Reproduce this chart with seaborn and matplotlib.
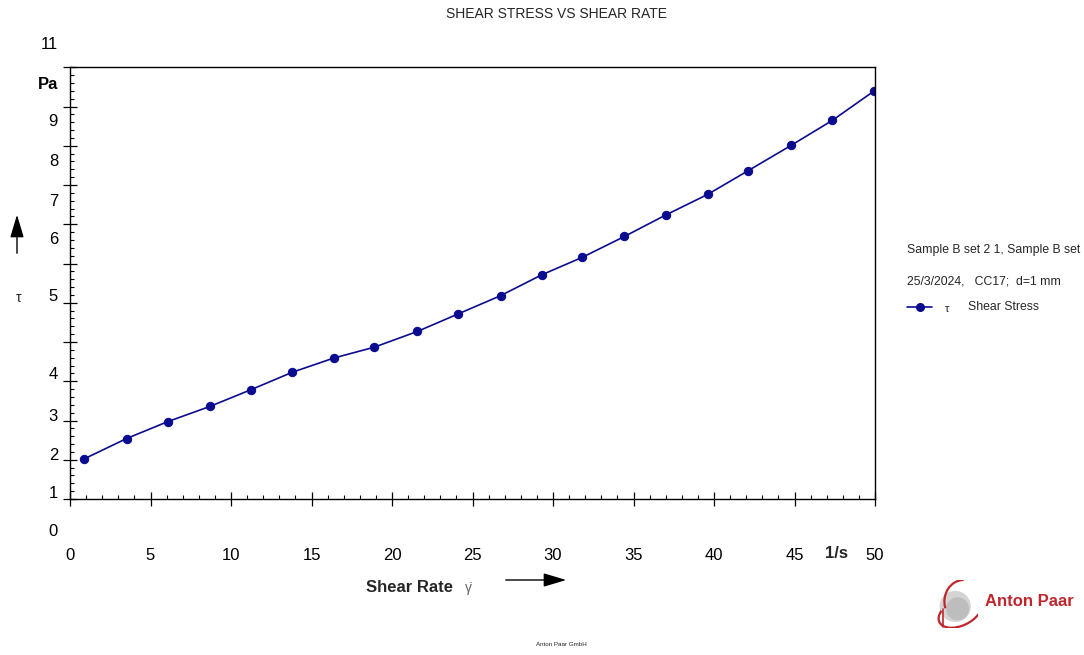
import matplotlib
matplotlib.use("Agg")
import matplotlib.pyplot as plt
import seaborn as sns
import pandas as pd
from matplotlib.lines import Line2D
from matplotlib.patches import Circle, Arc, FancyArrowPatch
from matplotlib.ticker import MultipleLocator

# Measured flow curve: shear rate (1/s) and shear stress tau (Pa)
shear_rate = [0.87, 3.51, 6.06, 8.70, 11.27, 13.81, 16.37, 18.91, 21.58, 24.13,
              26.74, 29.29, 31.83, 34.44, 37.02, 39.60, 42.14, 44.79, 47.36, 49.92]
shear_stress = [2.02, 2.54, 2.97, 3.36, 3.79, 4.23, 4.59, 4.87, 5.27, 5.72,
                6.18, 6.71, 7.16, 7.69, 8.24, 8.76, 9.37, 10.01, 10.65, 11.39]

x_tick_values = [0, 5, 10, 15, 20, 25, 30, 35, 40, 45, 50]
y_label_texts = ["0", "1", "2", "3", "4", "5", "6", "7", "8", "9", "Pa", "11"]

series_name = "Shear Stress"
sample_info = "Sample B set 2 1, Sample B set"
run_info = "25/3/2024,   CC17;  d=1 mm"

df = pd.DataFrame({"rate": shear_rate, "stress": shear_stress})

sns.set_theme(style="white")
plt.rcParams["font.family"] = ["Liberation Sans", "DejaVu Sans"]

W, H = 1084, 655
fig = plt.figure(figsize=(W / 100, H / 100), dpi=100)
ax = fig.add_axes([70 / W, 1 - 499 / H, (875 - 70) / W, (499 - 67.3) / H])

line_color = "#0b0b8f"
sns.lineplot(data=df, x="rate", y="stress", ax=ax, color=line_color,
             marker="o", markersize=6, markeredgecolor=line_color,
             linewidth=1.2, sort=False, legend=False)

ax.set_xlim(0, 50)
ax.set_ylim(1, 12)
ax.set_xlabel("")
ax.set_ylabel("")

for s in ax.spines.values():
    s.set_visible(True)
    s.set_color("black")
    s.set_linewidth(1.0)

ax.xaxis.set_major_locator(MultipleLocator(5))
ax.xaxis.set_minor_locator(MultipleLocator(1))
ax.yaxis.set_major_locator(MultipleLocator(1))
ax.yaxis.set_minor_locator(MultipleLocator(0.2))
ax.set_xticks(x_tick_values)
ax.set_xticklabels([str(v) for v in x_tick_values])
ax.tick_params(axis="both", which="major", direction="inout", length=10,
               width=0.9, color="black", bottom=True, left=True,
               top=False, right=False)
ax.tick_params(axis="both", which="minor", direction="in", length=3,
               width=0.8, color="black", bottom=True, left=True,
               top=False, right=False)
ax.tick_params(axis="x", which="major", pad=30, labelsize=12, labelcolor="black")
ax.tick_params(axis="y", which="major", labelleft=False)

# Y-axis labels as printed by the rheometer software
y_label_pos = [0.16, 1.15, 2.10, 3.09, 4.16, 6.15, 7.60, 8.57, 9.59, 10.61, 11.57, 12.59]
ytrans = ax.get_yaxis_transform()
for txt, yp in zip(y_label_texts, y_label_pos):
    ax.text(-12 / 805, yp, txt, transform=ytrans, ha="right", va="center",
            fontsize=12, fontweight="bold" if txt == "Pa" else "normal",
            clip_on=False, color="black")

# Unit of x axis
ax.text(837 / W, 1 - 553 / H, "1/s", transform=fig.transFigure, ha="center",
        va="center", fontsize=12, fontweight="bold")

# Title
fig.text(556 / W, 1 - 14 / H, "SHEAR STRESS VS SHEAR RATE", ha="center",
         va="center", fontsize=10)

# Axis names with arrows
fig.text(453 / W, 1 - 588 / H, "Shear Rate", ha="right", va="center",
         fontsize=12, fontweight="bold")
fig.text(468 / W, 1 - 588 / H, "\u03b3\u0307", ha="center", va="center",
         fontsize=10, color="#666666")
fig.add_artist(FancyArrowPatch(
    (503 / W, 1 - 580 / H), (569 / W, 1 - 580 / H), transform=fig.transFigure,
    arrowstyle="-|>,head_length=1.0,head_width=0.3", mutation_scale=14,
    color="black", linewidth=1.0))
fig.add_artist(FancyArrowPatch(
    (17 / W, 1 - 256 / H), (17 / W, 1 - 212 / H), transform=fig.transFigure,
    arrowstyle="-|>,head_length=1.0,head_width=0.3", mutation_scale=14,
    color="black", linewidth=1.0))
fig.text(19 / W, 1 - 298 / H, "\u03c4", ha="center", va="center", fontsize=10)

# Sample information and legend
fig.text(907 / W, 1 - 250 / H, sample_info, ha="left", va="center", fontsize=8.8)
fig.text(907 / W, 1 - 281 / H, run_info, ha="left", va="center", fontsize=8.8)
fig.add_artist(Line2D([907 / W, 932 / W], [1 - 307 / H, 1 - 307 / H],
                      transform=fig.transFigure, color=line_color, linewidth=1.2))
fig.add_artist(Line2D([919.5 / W], [1 - 307 / H], transform=fig.transFigure,
                      color=line_color, marker="o", markersize=5.5))
fig.text(947 / W, 1 - 309 / H, "\u03c4", ha="center", va="center", fontsize=8)
fig.text(968 / W, 1 - 307 / H, series_name, ha="left", va="center", fontsize=8.8)

# Company mark
lax = fig.add_axes([930 / W, 1 - 628 / H, 48 / W, 48 / H])
lax.set_xlim(-1, 1)
lax.set_ylim(-1, 1)
lax.set_aspect("equal")
lax.axis("off")
lax.add_patch(Circle((0.05, -0.1), 0.62, color="#d4d4d4"))
lax.add_patch(Circle((0.15, -0.2), 0.45, color="#bdbdbd"))
lax.add_patch(Arc((0.25, -0.35), 1.9, 1.1, angle=25, theta1=150, theta2=330,
                  color="#c0262d", linewidth=1.6))
lax.add_patch(Arc((0.4, 0.1), 1.6, 1.8, angle=0, theta1=90, theta2=200,
                  color="#c0262d", linewidth=1.6))
lax.plot([-0.45, -0.45], [-0.2, -0.95], color="#c0262d", linewidth=1.2)
fig.text(985 / W, 1 - 601 / H, "Anton Paar", ha="left", va="center",
         fontsize=12, fontweight="bold", color="#c0262d")

fig.text(561 / W, 1 - 645 / H, "Anton Paar GmbH", ha="center", va="center",
         fontsize=4.5)

fig.savefig("out.png", dpi=100, facecolor="white")
